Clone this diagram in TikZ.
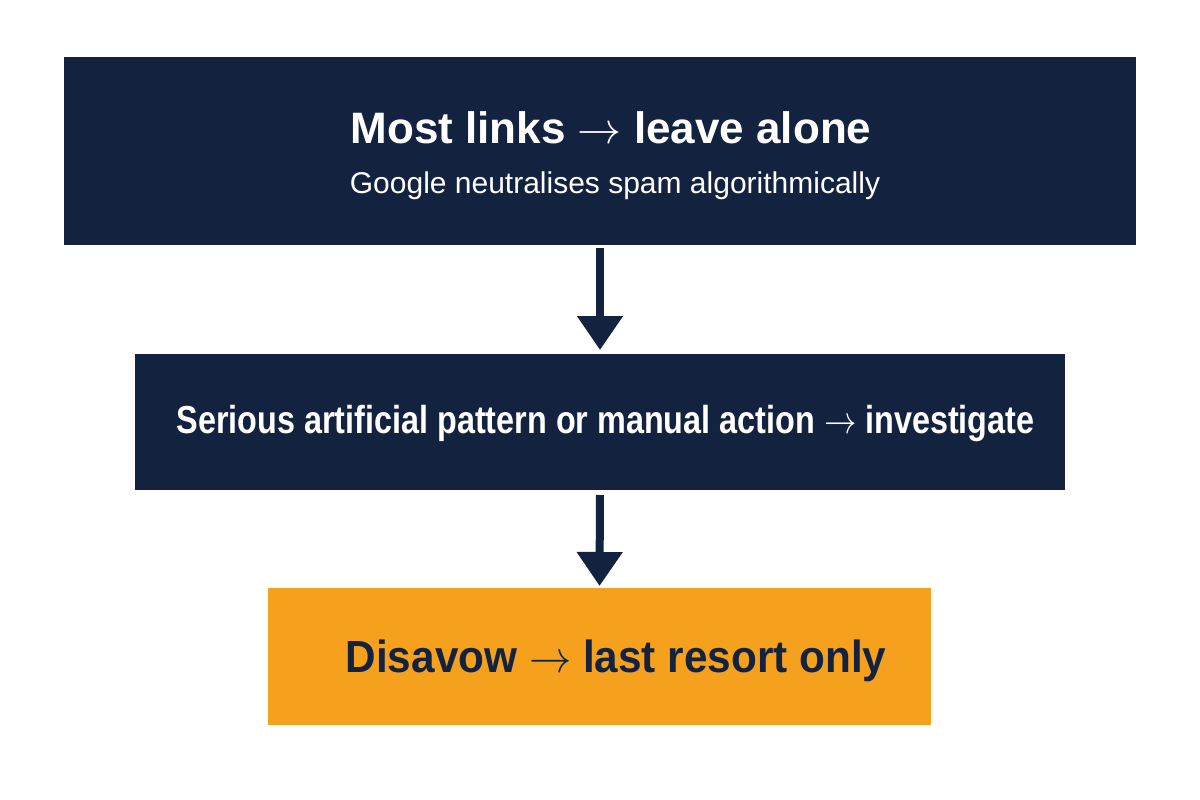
\RequirePackage{fix-cm}
\documentclass[tikz,border=0pt]{standalone}
\usepackage{fontspec}
\setmainfont{Liberation Sans}
\usetikzlibrary{arrows.meta}
\definecolor{navy}{HTML}{13233F}
\definecolor{amber}{HTML}{F5A11D}
\newcommand{\rarr}{\ensuremath{\rightarrow}}
\begin{document}
\begin{tikzpicture}[x=1pt,y=-1pt,
  box/.style={draw=none, inner sep=0pt, outer sep=0pt},
  lbl/.style={inner sep=0pt, anchor=base},
  flow/.style={draw=navy, line width=8pt, -{Triangle[width=44pt,length=34pt]}}]
\useasboundingbox (0,0) rectangle (1200,800);
\fill[white] (0,0) rectangle (1200,800);
\node[box, fill=navy, minimum width=1072pt, minimum height=188pt] (top) at (600,151) {};
\node[box, fill=navy, minimum width=930pt, minimum height=136pt] (mid) at (600,422) {};
\node[box, fill=amber, minimum width=663pt, minimum height=137pt] (bot) at (599.5,656.5) {};
\node[lbl, text=white, font=\bfseries\fontsize{44}{54}\selectfont] (t1) at (611,143) {Most links \rarr{} leave alone};
\node[lbl, text=white, font=\fontsize{30}{36}\selectfont] (t2) at (615,193) {Google neutralises spam algorithmically};
\node[lbl, text=white, font=\bfseries\fontsize{39}{48}\selectfont] (t3) at (605.5,433) {\scalebox{0.83}[1]{Serious artificial pattern or manual action \rarr{} investigate}};
\node[lbl, text=navy, font=\bfseries\fontsize{45}{54}\selectfont] (t4) at (616,672) {\scalebox{0.94}[1]{Disavow \rarr{} last resort only}};
\draw[flow, shorten <=3pt, shorten >=4pt] (top.south) -- (mid.north);
\draw[flow, shorten <=5pt, shorten >=2pt] (mid.south) -- (bot.north);
\end{tikzpicture}
\end{document}
